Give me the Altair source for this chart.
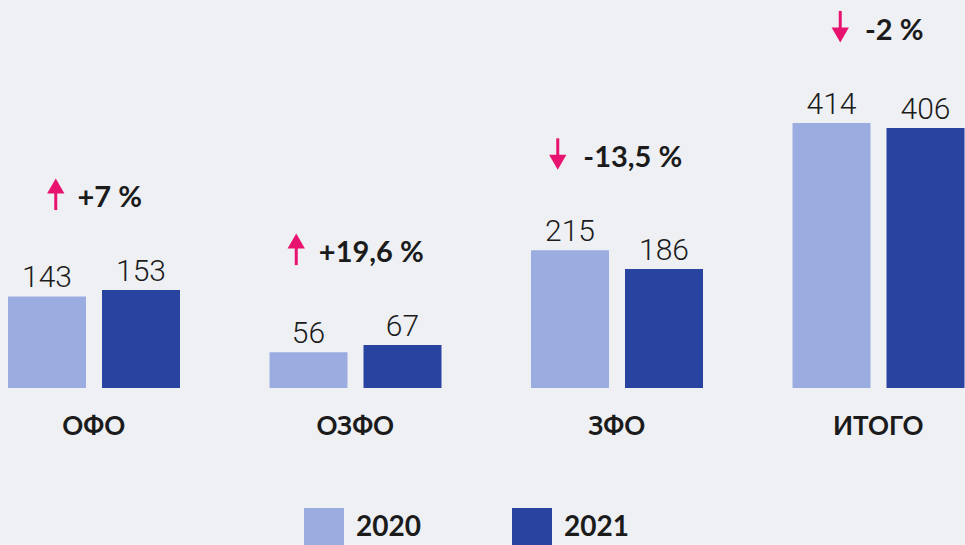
import altair as alt
import pandas as pd

groups = ["ОФО", "ОЗФО", "ЗФО", "ИТОГО"]
v2020 = [143, 56, 215, 414]
v2021 = [153, 67, 186, 406]
changes = ["+7 %", "+19,6 %", "-13,5 %", "-2 %"]
directions = ["up", "up", "down", "down"]
years = ["2020", "2021"]

LIGHT = "#9bace0"
DARK = "#2943a0"
PINK = "#e8136f"
TEXT = "#1b1b1b"
BG = "#eef0f4"

rows = []
for g, a, b in zip(groups, v2020, v2021):
    rows.append({"group": g, "year": "2020", "value": a})
    rows.append({"group": g, "year": "2021", "value": b})
long_df = pd.DataFrame(rows)

anno_df = pd.DataFrame({
    "group": groups,
    "change": changes,
    "dir": directions,
    "v20": v2020,
    "v21": v2021,
})

x_enc = alt.X(
    "group:N",
    sort=groups,
    scale=alt.Scale(range=[-37, 1009], paddingInner=0, paddingOuter=0),
    axis=alt.Axis(
        title=None, domain=False, ticks=False, labelAngle=0,
        labelFont="Lato", labelFontWeight="bold", labelFontSize=26,
        labelColor=TEXT, labelPadding=38, labelBaseline="middle",
    ),
)
xoff_bar = alt.XOffset(
    "year:N",
    scale=alt.Scale(type="band", domain=years, range=[45, 217],
                    paddingInner=0.1702, paddingOuter=0),
)
xoff_text = alt.XOffset(
    "year:N",
    scale=alt.Scale(type="point", domain=years, range=[84, 178], padding=0),
)
YSC = alt.Scale(domain=[0, 606])
y_enc = alt.Y("value:Q", scale=YSC, axis=None)
y_top = alt.Y("top:Q", scale=YSC, axis=None)

bars = alt.Chart(long_df).mark_bar().encode(
    x=x_enc,
    xOffset=xoff_bar,
    y=y_enc,
    color=alt.Color(
        "year:N",
        scale=alt.Scale(domain=years, range=[LIGHT, DARK]),
        legend=alt.Legend(
            title=None, orient="none", legendX=304, legendY=508,
            direction="horizontal", symbolType="square", symbolSize=1600,
            symbolStrokeWidth=0, symbolOpacity=1,
            labelFont="Lato", labelFontWeight="bold", labelFontSize=28,
            labelColor=TEXT, labelOffset=12, columnPadding=91, padding=0,
        ),
    ),
)

values = alt.Chart(long_df).mark_text(
    baseline="alphabetic", dy=-9, font="Roboto", fontWeight=300,
    fontSize=30, color=TEXT,
).encode(
    x=x_enc,
    xOffset=xoff_text,
    y=y_enc,
    text="value:Q",
)

anno_base = alt.Chart(anno_df).transform_calculate(
    top="max(datum.v20, datum.v21)",
    aoff="130.75 + 16 - (length(datum.change) * 14 + 8) / 2 - 22",
)

anno_text = anno_base.mark_text(
    align="center", baseline="middle", dx=16, dy=-92,
    font="Lato", fontWeight="bold", fontSize=29, color=TEXT,
).encode(
    x=x_enc,
    y=y_top,
    text="change:N",
)

xoff_arrow = alt.XOffset("aoff:Q", scale=alt.Scale(domain=[0, 300], range=[0, 300]))

C = -96  # arrow centre relative to bar top

up = anno_base.transform_filter(alt.datum.dir == "up")
down = anno_base.transform_filter(alt.datum.dir == "down")

up_shaft = up.mark_rule(color=PINK, strokeWidth=3, yOffset=C + 16, y2Offset=C - 4).encode(
    x=x_enc, xOffset=xoff_arrow, y=y_top, y2="top:Q",
)
up_head = up.mark_point(shape="triangle-up", size=300, filled=True, opacity=1,
                        color=PINK, yOffset=C - 8).encode(
    x=x_enc, xOffset=xoff_arrow, y=y_top,
)
down_shaft = down.mark_rule(color=PINK, strokeWidth=3, yOffset=C - 16, y2Offset=C + 4).encode(
    x=x_enc, xOffset=xoff_arrow, y=y_top, y2="top:Q",
)
down_head = down.mark_point(shape="triangle-down", size=300, filled=True, opacity=1,
                            color=PINK, yOffset=C + 8).encode(
    x=x_enc, xOffset=xoff_arrow, y=y_top,
)

chart = alt.layer(
    bars, values, anno_text, up_shaft, up_head, down_shaft, down_head
).resolve_scale(
    xOffset="independent"
).properties(
    width=965, height=388,
    autosize=alt.AutoSizeParams(type="none"),
    padding={"left": 0, "right": 0, "top": 0, "bottom": 157},
    background=BG,
).configure_view(stroke=None)

chart.save("out.html", embed_options={"renderer": "svg", "actions": False})
